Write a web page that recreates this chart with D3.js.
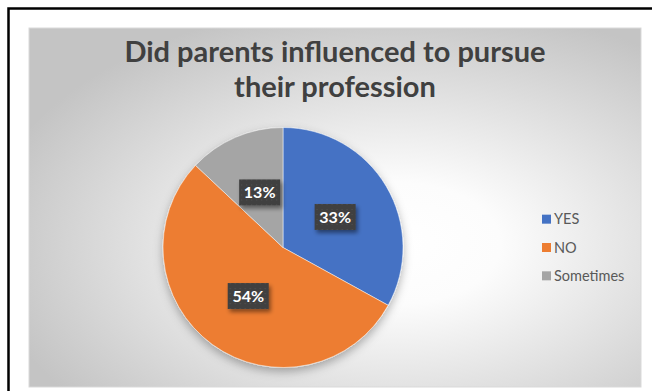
<!DOCTYPE html>
<html>
<head>
<meta charset="utf-8">
<script src="https://cdn.jsdelivr.net/npm/d3@7"></script>
<style>
  body { margin: 0; background: #fff; }
  svg { display: block; }
</style>
</head>
<body>
<svg id="chart" width="652" height="391"></svg>
<script>
const categories = ["YES", "NO", "Sometimes"];
const values = [33, 54, 13];
const colors = ["#4472C4", "#ED7D31", "#A5A5A5"];
const titleLines = ["Did parents influenced to pursue", "their profession"];

const svg = d3.select("#chart");
const defs = svg.append("defs");

// background gradient of the chart area
const grad = defs.append("radialGradient")
  .attr("id", "bg")
  .attr("cx", 0.6).attr("cy", 0.6).attr("r", 0.68)
  .attr("fx", 0.6).attr("fy", 0.6);
grad.append("stop").attr("offset", "0%").attr("stop-color", "#ffffff");
grad.append("stop").attr("offset", "25%").attr("stop-color", "#fcfcfc");
grad.append("stop").attr("offset", "100%").attr("stop-color", "#c4c4c4");

const pieShadow = defs.append("filter").attr("id", "pieShadow")
  .attr("x", "-20%").attr("y", "-20%").attr("width", "140%").attr("height", "140%");
pieShadow.append("feDropShadow")
  .attr("dx", 0).attr("dy", 4).attr("stdDeviation", 5)
  .attr("flood-color", "#000").attr("flood-opacity", 0.3);

const boxShadow = defs.append("filter").attr("id", "boxShadow")
  .attr("x", "-30%").attr("y", "-30%").attr("width", "160%").attr("height", "160%");
boxShadow.append("feDropShadow")
  .attr("dx", 2).attr("dy", 3).attr("stdDeviation", 2)
  .attr("flood-color", "#000").attr("flood-opacity", 0.45);

const dots = defs.append("pattern").attr("id", "dots")
  .attr("width", 5).attr("height", 5).attr("patternUnits", "userSpaceOnUse");
dots.append("rect").attr("width", 5).attr("height", 5).attr("fill", "#3f3f3f");
dots.append("circle").attr("cx", 2.5).attr("cy", 2.5).attr("r", 0.8).attr("fill", "#4f4f4f");

// outer frame
svg.append("rect")
  .attr("x", 8.5).attr("y", 8.5)
  .attr("width", 660).attr("height", 400)
  .attr("fill", "none").attr("stroke", "#000").attr("stroke-width", 2.5);

// chart area
svg.append("rect")
  .attr("x", 29).attr("y", 28)
  .attr("width", 612).attr("height", 359)
  .attr("fill", "url(#bg)")
  .attr("stroke", "#d9d9d9").attr("stroke-width", 1);

// title
svg.append("text")
  .attr("x", 335).attr("y", 62)
  .attr("text-anchor", "middle")
  .attr("font-family", "Lato, 'Open Sans', sans-serif")
  .attr("font-weight", "bold")
  .attr("font-size", 29)
  .attr("fill", "#404040")
  .selectAll("tspan")
  .data(titleLines)
  .join("tspan")
  .attr("x", 335)
  .attr("dy", (d, i) => i === 0 ? 0 : 35)
  .text(d => d);

// pie
const cx = 283, cy = 247.5, radius = 120;
const data = categories.map((c, i) => ({ category: c, value: values[i], color: colors[i] }));
const pie = d3.pie().sort(null).value(d => d.value);
const arcs = pie(data);
const arc = d3.arc().innerRadius(0).outerRadius(radius);
const labelArc = d3.arc().innerRadius(radius * 0.5).outerRadius(radius * 0.5);

const g = svg.append("g").attr("transform", `translate(${cx},${cy})`);

g.append("g")
  .attr("filter", "url(#pieShadow)")
  .selectAll("path")
  .data(arcs)
  .join("path")
  .attr("d", arc)
  .attr("fill", d => d.data.color)
  .attr("stroke", "#ffffff")
  .attr("stroke-width", 0.5);

const total = d3.sum(values);
const labels = g.selectAll(".label")
  .data(arcs)
  .join("g")
  .attr("class", "label")
  .attr("transform", d => `translate(${labelArc.centroid(d)})`);

labels.append("rect")
  .attr("x", -20).attr("y", -13)
  .attr("width", 41).attr("height", 26)
  .attr("fill", "url(#dots)")
  .attr("filter", "url(#boxShadow)");

labels.append("text")
  .attr("x", 0.5)
  .attr("text-anchor", "middle")
  .attr("dy", "0.36em")
  .attr("font-family", "Lato, 'Open Sans', sans-serif")
  .attr("font-weight", "bold")
  .attr("font-size", 16)
  .attr("fill", "#ffffff")
  .text(d => Math.round(d.data.value / total * 100) + "%");

// legend
const legendY = d3.scaleBand()
  .domain(categories)
  .range([205, 290]);

const legend = svg.append("g")
  .selectAll("g")
  .data(data)
  .join("g")
  .attr("transform", d => `translate(542,${legendY(d.category) + legendY.bandwidth() / 2})`);

legend.append("rect")
  .attr("x", 0).attr("y", -4.5)
  .attr("width", 9).attr("height", 9)
  .attr("fill", d => d.color);

legend.append("text")
  .attr("x", 12)
  .attr("dy", "0.35em")
  .attr("font-family", "Lato, 'Open Sans', sans-serif")
  .attr("font-size", 14.5)
  .attr("fill", "#595959")
  .text(d => d.category);
</script>
</body>
</html>
